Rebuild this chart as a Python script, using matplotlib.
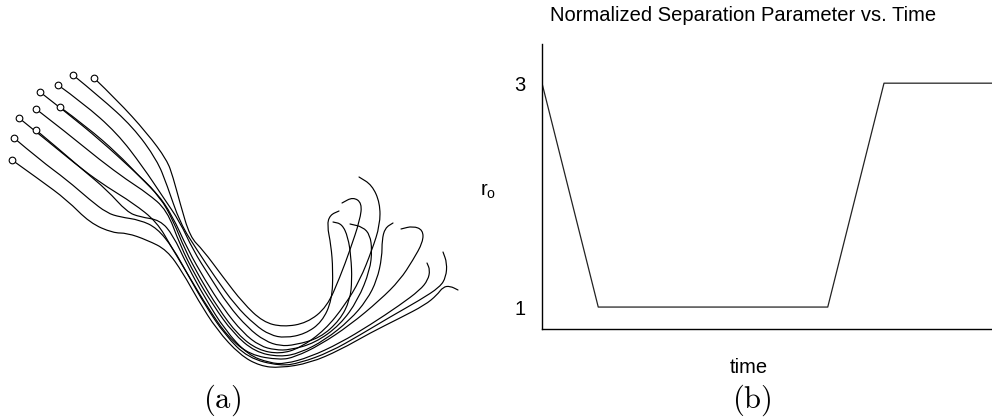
import matplotlib
matplotlib.use("Agg")
import matplotlib.pyplot as plt
from matplotlib.path import Path
from matplotlib.patches import PathPatch

plt.rcParams['font.family'] = ['Liberation Sans', 'DejaVu Sans']
plt.rcParams['mathtext.fontset'] = 'custom'
plt.rcParams['mathtext.rm'] = 'Liberation Sans'
plt.rcParams['mathtext.it'] = 'Liberation Sans'

# ---------------- Panel (a): trajectories (x, y positions) ----------------
traj1_x = [94,117,147,167,173,180,190,203,223,243,263,283,307,327,340,350,360,362,353,342]
traj1_y = [78,100,133,160,177,203,237,250,277,303,322,327,323,307,277,250,220,203,197,203]
traj2_x = [73,100,133,157,167,180,197,215,235,255,270,285,305,322,332,333,331,327,330,339]
traj2_y = [75,97,127,160,185,223,250,277,305,325,335,338,334,322,300,270,245,225,215,211]
traj3_x = [58,83,117,143,163,180,193,210,228,248,265,280,295,320,340,350,352,351,348,342,333]
traj3_y = [85,103,133,167,197,222,250,277,305,328,341,346,345,338,320,300,280,257,237,224,222]
traj4_x = [40,67,100,133,157,172,188,205,223,243,260,275,290,315,340,358,370,372,370,363,350]
traj4_y = [92,113,140,170,193,215,250,280,308,333,346,350,350,343,325,300,270,250,235,227,224]
traj5_x = [60,87,117,140,160,173,185,200,218,238,258,280,300,325,345,360,372,380,380,372,359]
traj5_y = [107,127,153,177,197,220,250,278,308,335,350,354,348,330,305,280,250,225,203,185,177]
traj6_x = [36,67,100,127,147,167,180,195,213,233,255,280,300,325,350,367,377,382,382,385,393]
traj6_y = [109,133,160,180,193,210,245,275,305,333,352,357,353,340,320,300,280,257,240,228,223]
traj7_x = [19,50,83,107,133,157,172,190,208,228,250,280,295,320,350,380,400,413,423,423,413,401]
traj7_y = [118,143,170,187,203,222,248,278,308,337,355,360,357,345,325,300,280,260,242,230,226,229]
traj8_x = [36,60,83,107,127,140,160,173,187,205,225,248,270,285,310,340,370,400,420,428,430,427]
traj8_y = [130,150,170,190,212,217,220,235,265,298,330,355,363,364,357,343,325,305,290,280,270,263]
traj9_x = [14,40,67,90,107,120,140,157,173,188,205,225,248,280,300,330,360,390,420,440,446,447,443]
traj9_y = [138,160,180,200,213,217,220,228,248,275,305,335,358,366,363,352,335,317,300,287,277,263,252]
traj10_x = [12,40,67,90,113,127,147,167,183,198,217,240,260,280,310,340,370,400,425,437,443,450,458]
traj10_y = [160,180,200,223,233,233,240,250,273,300,330,355,366,368,363,350,333,318,305,295,287,286,290]

trajectories = [
    (traj1_x, traj1_y), (traj2_x, traj2_y), (traj3_x, traj3_y), (traj4_x, traj4_y),
    (traj5_x, traj5_y), (traj6_x, traj6_y), (traj7_x, traj7_y), (traj8_x, traj8_y),
    (traj9_x, traj9_y), (traj10_x, traj10_y),
]

# ---------------- Panel (b): separation parameter ----------------
time_vals = [0, 1.0, 5.08, 6.08, 8.0]
r_vals = [3, 1, 1, 3, 3]
ytick_vals = [1, 3]
ytick_labels = ['1', '3']

W, H = 992, 419
fig = plt.figure(figsize=(W / 100, H / 100), dpi=100)


def smooth_path(xs, ys):
    """Quadratic-Bezier path using the read points as control points."""
    pts = list(zip(xs, ys))
    verts = [pts[0]]
    codes = [Path.MOVETO]
    for i in range(1, len(pts) - 1):
        mid = ((pts[i][0] + pts[i + 1][0]) / 2, (pts[i][1] + pts[i + 1][1]) / 2)
        verts += [pts[i], mid]
        codes += [Path.CURVE3, Path.CURVE3]
    verts.append(pts[-1])
    codes.append(Path.LINETO)
    return Path(verts, codes)


# Panel (a)
axa = fig.add_axes([0, 0, 470 / W, 1])
axa.set_xlim(0, 470)
axa.set_ylim(H, 0)
axa.axis('off')
for xs, ys in trajectories:
    axa.add_patch(PathPatch(smooth_path(xs, ys), facecolor='none', edgecolor='black',
                            lw=0.85, capstyle='round', joinstyle='round'))
    axa.plot(xs[0], ys[0], marker='o', ms=4.8, mfc='white', mec='black', mew=0.8, zorder=3)

# Panel (b)
left, right, bottom, top = 542, 992, 329, 44
axb = fig.add_axes([left / W, (H - bottom) / H, (right - left) / W, (bottom - top) / H])
axb.plot(time_vals, r_vals, color='#222222', lw=0.9)
axb.set_xlim(0, 8)
axb.set_ylim(0.804, 3.35)
axb.spines['top'].set_visible(False)
axb.spines['right'].set_visible(False)
for s in ('left', 'bottom'):
    axb.spines[s].set_linewidth(1.0)
axb.set_xticks([])
axb.set_yticks(ytick_vals)
axb.set_yticklabels(ytick_labels)
axb.tick_params(axis='y', length=0, pad=12, labelsize=14.5)
axb.set_ylabel(r'r$_{\mathrm{o}}$', rotation=0, fontsize=14.5)
axb.yaxis.set_label_coords(-0.12, 0.45)
axb.set_xlabel('time', fontsize=14.5)
axb.xaxis.set_label_coords(0.46, -0.102)
axb.text(0.447, 1.10, 'Normalized Separation Parameter vs. Time', transform=axb.transAxes,
         ha='center', va='center', fontsize=14.5)

# Sub-captions
fig.text(222 / W, (H - 400) / H, r'$\mathrm{(a)}$', math_fontfamily='cm', fontsize=22,
         ha='center', va='center')
fig.text(752 / W, (H - 400) / H, r'$\mathrm{(b)}$', math_fontfamily='cm', fontsize=22,
         ha='center', va='center')

fig.savefig('out.png', dpi=100)
